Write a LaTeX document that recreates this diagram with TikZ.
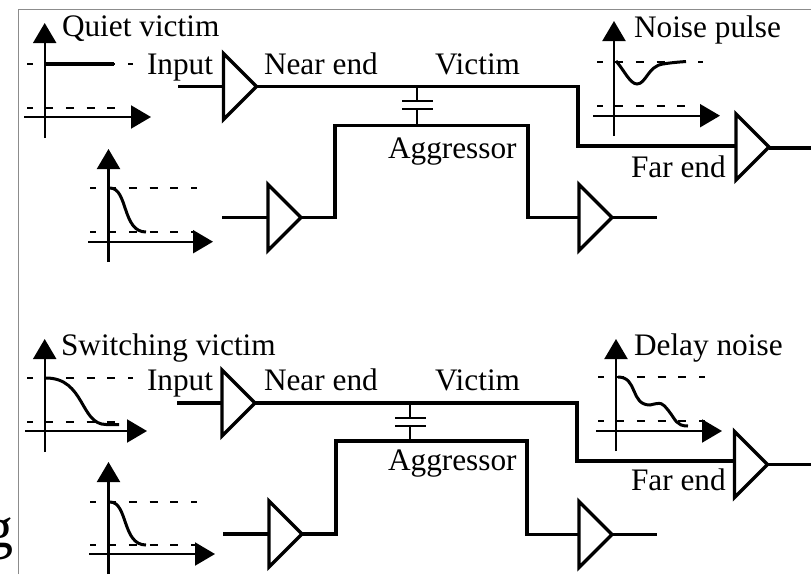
\documentclass[tikz,border=0pt]{standalone}
\usepackage{fontspec}
\setmainfont{Liberation Serif}
\usetikzlibrary{shapes.geometric,arrows.meta}
\tikzset{
  x=1pt,y=-1pt,
  buf/.style={shape=isosceles triangle,isosceles triangle stretches,draw=black,line width=3.4pt,
    minimum width=66pt,minimum height=33pt,inner sep=0pt,outer sep=0pt,anchor=west,miter limit=10},
  wire/.style={draw=black,line width=3.8pt,line join=miter},
  thinwire/.style={draw=black,line width=3.4pt},
  axis/.style={draw=black,line width=2.1pt,-{Triangle[length=20pt,width=23pt]}},
  refline/.style={draw=black,line width=1.9pt,dash pattern=on 8pt off 12.7pt,dash phase=2.5pt},
  signal/.style={draw=black,line width=3pt},
  plate/.style={draw=black,line width=2pt},
  lbl/.style={anchor=base west,inner sep=0pt,outer sep=0pt,font=\fontsize{31.3}{33}\selectfont},
}
\begin{document}
\begin{tikzpicture}
\useasboundingbox (0,0) rectangle (811,574);
\fill[white] (0,0) rectangle (811,574);
\draw[black!45,line width=1.2pt] (18.5,574) -- (18.5,9.5) -- (811,9.5);
% clipped letter on the left margin
\begin{scope}
\clip (0,500) rectangle (17,574);
\node[lbl,font=\fontsize{58}{60}\selectfont] (g) at (-15,547) {g};
\end{scope}

% ---------- top panel ----------
\node[buf] (b1) at (223.5,86.5) {};
\node[buf] (b2) at (736,147) {};
\node[buf] (b3) at (268,217.5) {};
\node[buf] (b4) at (579,217.5) {};
\coordinate (i1) at (178,86.5);
\coordinate (o2) at (811,148);
\coordinate (i3) at (222,217.5);
\coordinate (o4) at (657,217.5);
\coordinate (k1) at (578,146);
\draw[wire] (i1) -- (b1.west);
\draw[wire] (b1.east) -| (k1) -- (b2.west |- k1);
\draw[wire] (b2.east |- o2) -- (o2);
\draw[thinwire] (i3) -- (b3.west);
\draw[wire] (b3.east) -- (335,217.5) |- (528,125.5) |- (b4.west);
\draw[thinwire] (b4.east) -- (o4);
\coordinate (c1t) at (417,86.5);
\coordinate (c1b) at (417,125.5);
\coordinate (c1a) at (417,101);
\coordinate (c1c) at (417,109);
\draw[plate] (c1t) -- (c1a) (c1c) -- (c1b);
\draw[plate] (402,101) -- (433,101) (402,109) -- (433,109);

% quiet victim graph
\draw[refline] (27,64) -- (133,64);
\draw[refline] (27,108) -- (118,108);
\draw[axis] (44.7,138) -- (44.7,23);
\draw[axis] (24,117) -- (151,117);
\draw[signal,line width=3.4pt] (45,64) -- (114,64);

% aggressor graph
\draw[refline] (90,188) -- (197,188);
\draw[refline] (90,232) -- (195,232);
\draw[axis] (108.5,262) -- (108.5,149);
\draw[axis] (88,241.7) -- (213,241.7);
\draw[signal] (110,188) .. controls (128,188) and (122,232) .. (146,232);

% noise pulse graph
\draw[refline] (597,62) -- (703,62);
\draw[refline] (597,106) -- (690,106);
\draw[axis] (614,136) -- (614,21);
\draw[axis] (593,115.7) -- (720,115.7);
\draw[signal] (616,61) .. controls (624,70) and (630,84) .. (637,84)
   .. controls (646,84) and (648,66) .. (663,64) .. controls (672,62.5) and (680,62) .. (686,61.5);

\node[lbl] (t1) at (62,36.5) {Quiet victim};
\node[lbl] (t2) at (147,74) {Input};
\node[lbl] (t3) at (264,74) {Near end};
\node[lbl] (t4) at (435,74) {Victim};
\node[lbl] (t5) at (388,158) {Aggressor};
\node[lbl] (t6) at (634,37) {Noise pulse};
\node[lbl] (t7) at (631,177) {Far end};

% ---------- bottom panel ----------
\node[buf] (b5) at (222,403) {};
\node[buf] (b6) at (734.5,464.5) {};
\node[buf] (b7) at (269,534) {};
\node[buf] (b8) at (579,534.5) {};
\coordinate (i5) at (177,403);
\coordinate (o6) at (811,464.5);
\coordinate (i7) at (223,534);
\coordinate (o8) at (657,534.5);
\coordinate (k2) at (577,461);
\draw[wire] (i5) -- (b5.west);
\draw[wire] (b5.east) -| (k2) -- (b6.west |- k2);
\draw[wire] (b6.east) -- (o6);
\draw[thinwire] (i7) -- (b7.west);
\draw[wire] (b7.east) -- (336,534) |- (527,441) |- (b8.west);
\draw[thinwire] (b8.east) -- (o8);
\coordinate (c2t) at (410,403);
\coordinate (c2b) at (410,441);
\coordinate (c2a) at (410,418);
\coordinate (c2c) at (410,426);
\draw[plate] (c2t) -- (c2a) (c2c) -- (c2b);
\draw[plate] (395,418) -- (426,418) (395,426) -- (426,426);

% switching victim graph
\draw[refline] (27,378) -- (133,378);
\draw[refline] (27,422) -- (125,422);
\draw[axis] (44.7,452) -- (44.7,339);
\draw[axis] (25,431) -- (147,431);
\draw[signal] (46,378) .. controls (85,378) and (80,424.5) .. (106,424.5) -- (119,424.5);

% aggressor graph
\draw[refline] (90,502) -- (197,502);
\draw[refline] (90,545) -- (195,545);
\draw[axis] (108.5,574) -- (108.5,462);
\draw[axis] (89,554) -- (215,554);
\draw[signal] (110,502) .. controls (128,502) and (122,545) .. (146,545);

% delay noise graph
\draw[refline] (598,377) -- (705,377);
\draw[refline] (598,421) -- (705,421);
\draw[axis] (616,451) -- (616,339);
\draw[axis] (596,431) -- (722,431);
\draw[signal] (618,377) .. controls (638,377) and (630,405) .. (650,405)
   .. controls (662,402) and (662,403) .. (668,410) .. controls (676,420) and (676,426) .. (688,426);

\node[lbl] (t8) at (61,355) {Switching victim};
\node[lbl] (t9) at (147,390) {Input};
\node[lbl] (t10) at (264,390) {Near end};
\node[lbl] (t11) at (435,390) {Victim};
\node[lbl] (t12) at (388,470) {Aggressor};
\node[lbl] (t13) at (634,355) {Delay noise};
\node[lbl] (t14) at (631,490) {Far end};
\end{tikzpicture}
\end{document}
